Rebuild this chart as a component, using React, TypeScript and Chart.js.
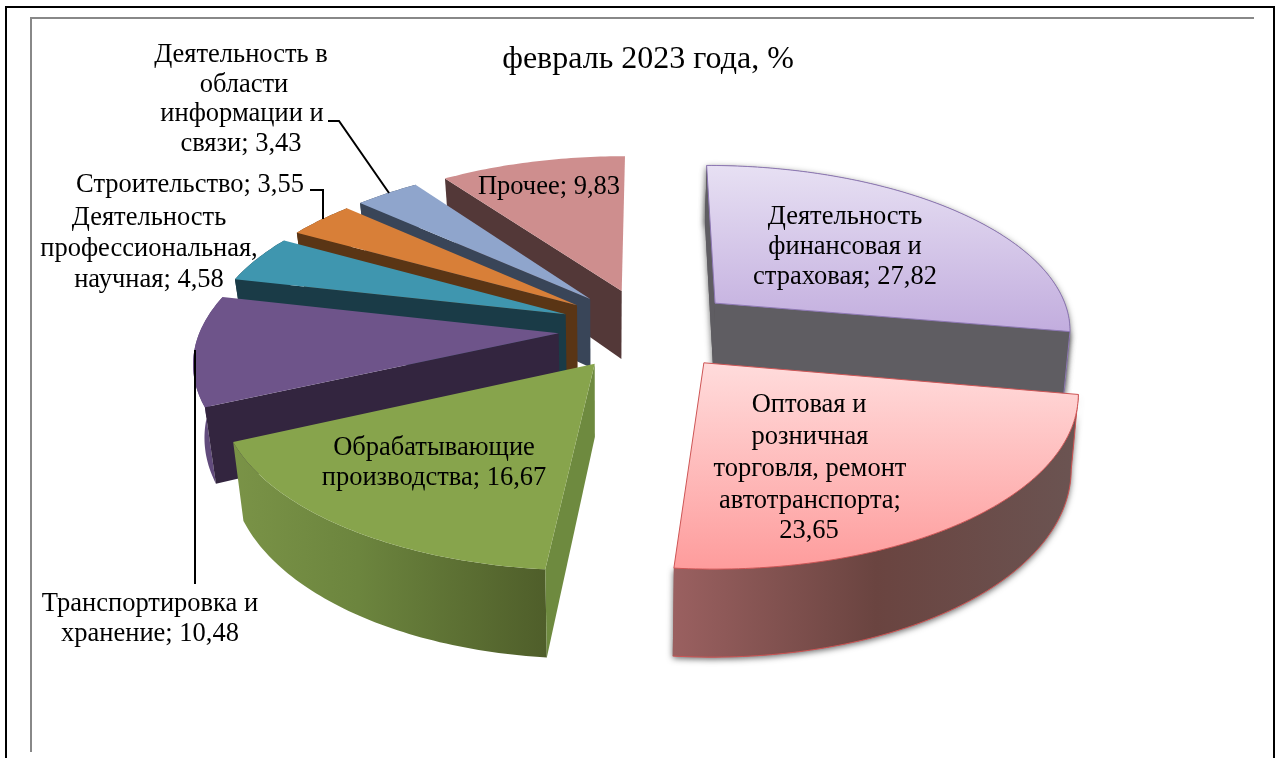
import React, { useEffect, useRef } from "react";
import { Chart, registerables } from "chart.js";

Chart.register(...registerables);

const titleText = "февраль 2023 года, %";
const categories = [
  "Деятельность финансовая и страховая",
  "Оптовая и розничная торговля, ремонт автотранспорта",
  "Обрабатывающие производства",
  "Транспортировка и хранение",
  "Деятельность профессиональная, научная",
  "Строительство",
  "Деятельность в области информации и связи",
  "Прочее",
];
const values = [27.82, 23.65, 16.67, 10.48, 4.58, 3.55, 3.43, 9.83];
const wordsPerLine = [
  [1, 2, 2],
  [2, 1, 2, 1, 1],
  [1, 2],
  [2, 2],
  [1, 1, 2],
  [2],
  [2, 1, 2, 2],
  [2],
];

const FONT = '"Liberation Serif", "Times New Roman", serif';
const LABEL_PX = 26.5;

// label layout: centre x and centre y of each line
const labelBoxes = [
  { xs: [845, 845, 845], ys: [217, 247, 277] },
  { xs: [809, 810, 810, 810, 809], ys: [405, 437, 469, 501, 531] },
  { xs: [434, 434], ys: [448, 478] },
  { xs: [150, 150], ys: [604, 634] },
  { xs: [149, 149, 149], ys: [218, 249, 280] },
  { xs: [190], ys: [185] },
  { xs: [241, 244, 242, 241], ys: [55, 85, 114, 144] },
  { xs: [549], ys: [187] },
];
const leaders = [
  [[195, 350], [195, 584]],
  [[310, 190], [323, 190], [323, 219]],
  [[328, 121], [339, 121], [389, 193]],
];

// drawing style per slice
const sliceStyles = [
  { top: ["#E7E0F3", "#C2ADDE"], wall: "#5F5D62", outer: [["#5F5D62", 0], ["#5F5D62", 1]], stroke: "#8E78B5", shadow: true, startWall: true, endWall: true, rimWall: true },
  { top: ["#FFDCDC", "#FE9C9C"], wall: "#9A6060", outer: [["#9A6060", 0], ["#6A4440", 0.5], ["#6B5452", 1]], stroke: "#CE5555", shadow: true, startWall: false, endWall: false, rimWall: true },
  { top: ["#87A44C", "#87A44C"], wall: "#6E8A3F", outer: [["#7A9347", 0], ["#6C853E", 0.4], ["#4F5E2A", 1]], stroke: null, shadow: false, startWall: true, endWall: false, rimWall: true },
  { top: ["#6E548A", "#6E548A"], wall: "#33253F", outer: [["#614B7C", 0], ["#614B7C", 1]], stroke: null, shadow: false, startWall: true, endWall: false, rimWall: true },
  { top: ["#3F96AF", "#3F96AF"], wall: "#1A3B47", outer: [["#1A3B47", 0], ["#1A3B47", 1]], stroke: null, shadow: false, startWall: true, endWall: false, rimWall: true },
  { top: ["#D87F38", "#D87F38"], wall: "#5A3515", outer: [["#5A3515", 0], ["#5A3515", 1]], stroke: null, shadow: false, startWall: true, endWall: false, rimWall: true },
  { top: ["#8FA5CC", "#8FA5CC"], wall: "#394558", outer: [["#394558", 0], ["#394558", 1]], stroke: null, shadow: false, startWall: true, endWall: false, rimWall: true },
  { top: ["#CE8E8E", "#CE8E8E"], wall: "#533838", outer: [["#533838", 0], ["#533838", 1]], stroke: null, shadow: false, startWall: true, endWall: false, rimWall: false },
];
const paintOrder = [7, 6, 5, 4, 3, 2, 0, 1];

// the camera that lays the pie on its side
const view = { cx: 648, cy: 329, ax: 358, by: 165, persp: 0.147, explode: 0.25, nadirX: 600, nadirLeft: 0.972, nadirRight: 0.985, depth0: 60, depthK: 0.072 };

type P = { x: number; y: number };
const project = (X: number, Y: number): P => {
  const w = 1 + view.persp * Y;
  return { x: view.cx + (view.ax * X) / w, y: view.cy - (view.by * Y) / w };
};
const drop = (p: P): P => ({
  x: view.nadirX + (p.x - view.nadirX) * (p.x < view.nadirX ? view.nadirLeft : view.nadirRight),
  y: p.y + view.depth0 + (p.y - 180) * view.depthK,
});
const tracePoly = (ctx: CanvasRenderingContext2D, pts: P[]) => {
  ctx.beginPath();
  pts.forEach((p, i) => (i ? ctx.lineTo(p.x, p.y) : ctx.moveTo(p.x, p.y)));
  ctx.closePath();
};
const traceLine = (ctx: CanvasRenderingContext2D, pts: P[]) => {
  ctx.beginPath();
  pts.forEach((p, i) => (i ? ctx.lineTo(p.x, p.y) : ctx.moveTo(p.x, p.y)));
};

const pie3d = {
  id: "pie3d",
  beforeDraw(chart: any) {
    const { ctx } = chart;
    ctx.save();
    ctx.fillStyle = "#fff";
    ctx.fillRect(0, 0, 1278, 758);
    ctx.fillStyle = "#000";
    ctx.fillRect(5, 6, 1270, 2);
    ctx.fillRect(5, 6, 2, 752);
    ctx.fillRect(1273, 6, 2, 752);
    ctx.fillStyle = "#888";
    ctx.fillRect(30, 17, 1224, 2);
    ctx.fillRect(30, 17, 2, 735);
    ctx.restore();
  },
  beforeDatasetsDraw(chart: any) {
    const { ctx } = chart;
    const arcs = chart.getDatasetMeta(0).data;
    for (const i of paintOrder) {
      const arc = arcs[i];
      const style = sliceStyles[i];
      // library angles start at 3 o'clock; here 0 is 12 o'clock, clockwise
      const a0 = arc.startAngle + Math.PI / 2;
      const a1 = arc.endAngle + Math.PI / 2;
      const mid = (a0 + a1) / 2;
      const ex = view.explode * Math.sin(mid);
      const ey = view.explode * Math.cos(mid);
      const apex = project(ex, ey);
      const rim: P[] = [];
      const n = Math.max(6, Math.ceil((a1 - a0) * 60));
      for (let k = 0; k <= n; k++) {
        const t = a0 + ((a1 - a0) * k) / n;
        rim.push(project(ex + Math.sin(t), ey + Math.cos(t)));
      }
      const rimLow = rim.map(drop);
      const apexLow = drop(apex);
      const xs = rim.map((p) => p.x);
      const ys = rim.map((p) => p.y).concat(apex.y);
      const x0 = Math.min(...xs);
      const x1 = Math.max(...xs);
      const y0 = Math.min(...ys);
      const y1 = Math.max(...ys);

      const rimWall = [...rim, ...[...rimLow].reverse()];
      const startWall = [apex, rim[0], rimLow[0], apexLow];
      const endWall = [apex, rim[n], rimLow[n], apexLow];

      if (style.shadow) {
        ctx.save();
        ctx.shadowColor = "rgba(0,0,0,0.6)";
        ctx.shadowBlur = 6;
        ctx.shadowOffsetY = 2;
        ctx.fillStyle = style.wall;
        tracePoly(ctx, rimWall);
        ctx.fill();
        if (style.startWall) {
          tracePoly(ctx, startWall);
          ctx.fill();
        }
        if (style.endWall) {
          tracePoly(ctx, endWall);
          ctx.fill();
        }
        ctx.restore();
      }

      if (style.rimWall) {
        const og = ctx.createLinearGradient(x0, 0, x1, 0);
        (style.outer as any[]).forEach(([c, s]) => og.addColorStop(s, c));
        ctx.fillStyle = og;
        tracePoly(ctx, rimWall);
        ctx.fill();
      }
      if (style.stroke) {
        ctx.strokeStyle = style.stroke;
        ctx.lineWidth = 1;
        traceLine(ctx, rimLow);
        ctx.stroke();
      }
      ctx.fillStyle = style.wall;
      if (style.startWall) {
        tracePoly(ctx, startWall);
        ctx.fill();
      }
      if (style.endWall) {
        tracePoly(ctx, endWall);
        ctx.fill();
      }
      if (style.stroke) {
        ctx.strokeStyle = style.stroke;
        ctx.lineWidth = 1;
        traceLine(ctx, i === 0 ? [rim[n], rimLow[n]] : [rim[0], rimLow[0]]);
        ctx.stroke();
      }

      // top face
      const tg = ctx.createLinearGradient(0, y0, 0, y1);
      tg.addColorStop(0, style.top[0]);
      tg.addColorStop(1, style.top[1]);
      ctx.fillStyle = tg;
      tracePoly(ctx, [apex, ...rim]);
      ctx.fill();
      if (style.stroke) {
        ctx.strokeStyle = style.stroke;
        ctx.lineWidth = 1;
        ctx.stroke();
      }
    }
    return false;
  },
  afterDraw(chart: any) {
    const { ctx } = chart;
    ctx.save();
    ctx.strokeStyle = "#000";
    ctx.lineWidth = 2;
    leaders.forEach((pts) => {
      ctx.beginPath();
      pts.forEach(([x, y], k) => (k ? ctx.lineTo(x, y) : ctx.moveTo(x, y)));
      ctx.stroke();
    });
    ctx.fillStyle = "#000";
    ctx.font = `${LABEL_PX}px ${FONT}`;
    ctx.textAlign = "center";
    ctx.textBaseline = "middle";
    categories.forEach((cat, i) => {
      const words = `${cat}; ${String(values[i]).replace(".", ",")}`.split(" ");
      let at = 0;
      wordsPerLine[i].forEach((count, ln) => {
        ctx.fillText(words.slice(at, at + count).join(" "), labelBoxes[i].xs[ln], labelBoxes[i].ys[ln]);
        at += count;
      });
    });
    ctx.restore();
  },
};

export default function App() {
  const ref = useRef<HTMLCanvasElement | null>(null);
  useEffect(() => {
    const chart = new Chart(ref.current as HTMLCanvasElement, {
      type: "pie",
      data: {
        labels: categories,
        datasets: [{ data: values, backgroundColor: sliceStyles.map((s) => s.top[1]), borderWidth: 0 }],
      },
      options: {
        animation: false,
        responsive: false,
        rotation: 0,
        layout: { padding: { left: 18 } },
        plugins: {
          legend: { display: false },
          tooltip: { enabled: false },
          title: {
            display: true,
            text: titleText,
            color: "#000",
            font: { family: FONT, size: 32, weight: "normal" },
            padding: { top: 40, bottom: 10 },
          },
        },
      },
      plugins: [pie3d],
    } as any);
    return () => chart.destroy();
  }, []);
  return (
    <div style={{ position: "fixed", left: 0, top: 0, width: 1278, height: 758 }}>
      <canvas ref={ref} width={1278} height={758} style={{ display: "block" }} />
    </div>
  );
}
